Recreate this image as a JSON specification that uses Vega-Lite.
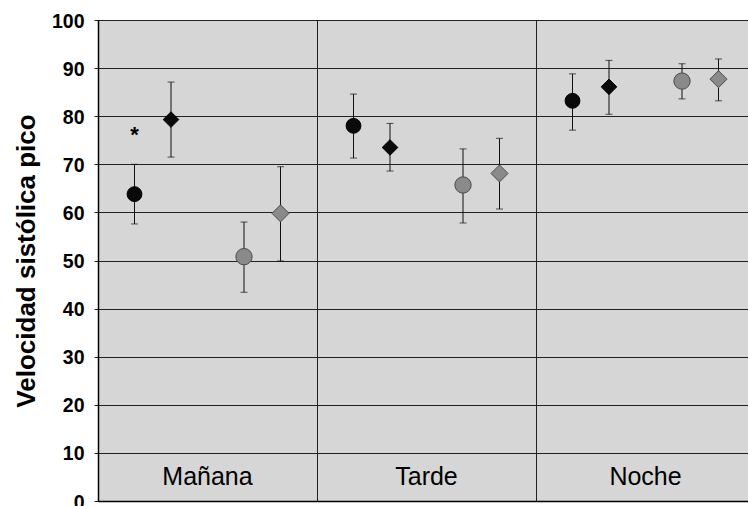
{
  "$schema": "https://vega.github.io/schema/vega-lite/v6.json",
  "width": 650,
  "height": 481,
  "autosize": {"type": "none"},
  "padding": {"left": 98, "top": 20, "right": 0, "bottom": 5},
  "background": "white",
  "config": {
    "view": {"stroke": null, "fill": "#d6d6d6"},
    "font": "Liberation Sans"
  },
  "datasets": {
    "puntos": [
      {"grupo": "Mañana", "serie": "A", "media": 63.8, "inf": 57.6, "sup": 70.0},
      {"grupo": "Mañana", "serie": "B", "media": 79.3, "inf": 71.5, "sup": 87.1},
      {"grupo": "Mañana", "serie": "C", "media": 50.8, "inf": 43.4, "sup": 58.0},
      {"grupo": "Mañana", "serie": "D", "media": 59.8, "inf": 49.9, "sup": 69.5},
      {"grupo": "Tarde", "serie": "A", "media": 78.0, "inf": 71.3, "sup": 84.6},
      {"grupo": "Tarde", "serie": "B", "media": 73.5, "inf": 68.6, "sup": 78.5},
      {"grupo": "Tarde", "serie": "C", "media": 65.7, "inf": 57.8, "sup": 73.2},
      {"grupo": "Tarde", "serie": "D", "media": 68.1, "inf": 60.7, "sup": 75.4},
      {"grupo": "Noche", "serie": "A", "media": 83.2, "inf": 77.1, "sup": 88.8},
      {"grupo": "Noche", "serie": "B", "media": 86.1, "inf": 80.4, "sup": 91.6},
      {"grupo": "Noche", "serie": "C", "media": 87.3, "inf": 83.6, "sup": 90.9},
      {"grupo": "Noche", "serie": "D", "media": 87.7, "inf": 83.2, "sup": 91.9}
    ],
    "grupos": [
      {"grupo": "Mañana"},
      {"grupo": "Tarde"},
      {"grupo": "Noche"}
    ],
    "notas": [
      {"grupo": "Mañana", "serie": "A", "valor": 74.7, "texto": "*"}
    ]
  },
  "encoding": {
    "x": {
      "field": "grupo",
      "type": "nominal",
      "sort": ["Mañana", "Tarde", "Noche"],
      "scale": {"type": "band", "domain": ["Mañana", "Tarde", "Noche"], "paddingInner": 0, "paddingOuter": 0, "range": [0, 657]},
      "axis": {
        "title": null,
        "labels": false,
        "ticks": false,
        "domain": true,
        "domainColor": "#000000",
        "domainWidth": 1.5,
        "grid": true,
        "gridColor": "#222222",
        "gridWidth": 1,
        "bandPosition": 0
      }
    }
  },
  "layer": [
    {
      "data": {"name": "puntos"},
      "mark": {"type": "rule", "color": "#111111", "strokeWidth": 1},
      "encoding": {
        "xOffset": {"field": "serie", "type": "nominal", "scale": {"type": "band", "domain": ["A", "B", "_", "C", "D"], "paddingInner": 0, "paddingOuter": 0.5}},
        "y": {
          "field": "inf",
          "type": "quantitative",
          "scale": {"domain": [0, 100], "nice": false, "zero": true},
          "axis": {
            "title": "Velocidad sistólica pico",
            "titleFont": "Liberation Sans",
            "titleFontSize": 26,
            "titleFontWeight": "bold",
            "titleColor": "#000000",
            "titlePadding": 12,
            "values": [0, 10, 20, 30, 40, 50, 60, 70, 80, 90, 100],
            "labelFont": "Liberation Sans",
            "labelFontSize": 19.5,
            "labelFontWeight": "bold",
            "labelColor": "#000000",
            "labelPadding": 10,
            "labelOffset": 1,
            "tickSize": 4,
            "tickColor": "#222222",
            "domainColor": "#000000",
            "domainWidth": 1.5,
            "grid": true,
            "gridColor": "#222222",
            "gridWidth": 1
          }
        },
        "y2": {"field": "sup"}
      }
    },
    {
      "data": {"name": "puntos"},
      "mark": {"type": "tick", "color": "#111111", "thickness": 1, "size": 7, "orient": "horizontal"},
      "encoding": {
        "xOffset": {"field": "serie", "type": "nominal", "scale": {"type": "band", "domain": ["A", "B", "_", "C", "D"], "paddingInner": 0, "paddingOuter": 0.5}},
        "y": {"field": "inf", "type": "quantitative"}
      }
    },
    {
      "data": {"name": "puntos"},
      "mark": {"type": "tick", "color": "#111111", "thickness": 1, "size": 7, "orient": "horizontal"},
      "encoding": {
        "xOffset": {"field": "serie", "type": "nominal", "scale": {"type": "band", "domain": ["A", "B", "_", "C", "D"], "paddingInner": 0, "paddingOuter": 0.5}},
        "y": {"field": "sup", "type": "quantitative"}
      }
    },
    {
      "data": {"name": "puntos"},
      "mark": {"type": "point", "filled": true, "opacity": 1, "strokeWidth": 1},
      "encoding": {
        "xOffset": {"field": "serie", "type": "nominal", "scale": {"type": "band", "domain": ["A", "B", "_", "C", "D"], "paddingInner": 0, "paddingOuter": 0.5}},
        "y": {"field": "media", "type": "quantitative"},
        "shape": {"field": "serie", "type": "nominal", "scale": {"domain": ["A", "B", "C", "D"], "range": ["circle", "diamond", "circle", "diamond"]}, "legend": null},
        "fill": {"field": "serie", "type": "nominal", "scale": {"domain": ["A", "B", "C", "D"], "range": ["#0a0a0a", "#0a0a0a", "#8a8a8a", "#8a8a8a"]}, "legend": null},
        "stroke": {"field": "serie", "type": "nominal", "scale": {"domain": ["A", "B", "C", "D"], "range": ["#000000", "#000000", "#4a4a4a", "#4a4a4a"]}, "legend": null},
        "size": {"field": "serie", "type": "nominal", "scale": {"domain": ["A", "B", "C", "D"], "range": [220, 290, 190, 235]}, "legend": null}
      }
    },
    {
      "data": {"name": "grupos"},
      "mark": {"type": "text", "font": "Liberation Sans", "fontSize": 25, "color": "#000000", "baseline": "alphabetic", "align": "center"},
      "encoding": {
        "y": {"datum": 3.4, "type": "quantitative"},
        "text": {"field": "grupo"}
      }
    },
    {
      "data": {"name": "notas"},
      "mark": {"type": "text", "font": "Liberation Sans", "fontSize": 22, "fontWeight": "bold", "color": "#000000", "baseline": "alphabetic", "align": "center"},
      "encoding": {
        "xOffset": {"field": "serie", "type": "nominal", "scale": {"type": "band", "domain": ["A", "B", "_", "C", "D"], "paddingInner": 0, "paddingOuter": 0.5}},
        "y": {"field": "valor", "type": "quantitative"},
        "text": {"field": "texto"}
      }
    }
  ]
}
